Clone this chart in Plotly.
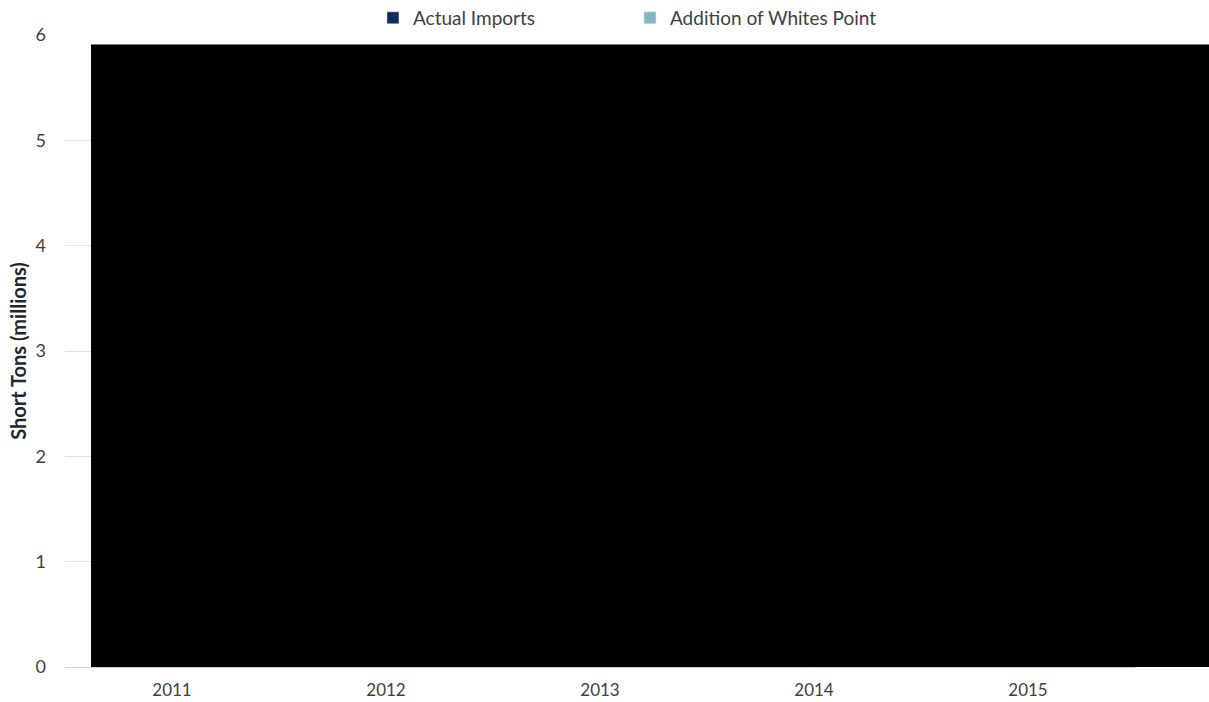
import plotly.graph_objects as go

years = ["2011", "2012", "2013", "2014", "2015"]
# Bar values are hidden under the solid black block in the reference; left empty.
actual_imports = [None, None, None, None, None]
whites_point = [None, None, None, None, None]
y_ticks = [0, 1, 2, 3, 4, 5, 6]

block_top = 5.91
block_x0 = 0.0243
block_x1 = 1.2

font_family = "Lato, 'Open Sans', sans-serif"
fig = go.Figure()
fig.add_trace(go.Bar(x=years, y=actual_imports, name="Actual Imports",
                     marker_color="#0b2d57"))
fig.add_trace(go.Bar(x=years, y=whites_point, name="Addition of Whites Point",
                     marker_color="#7fb8c2"))

fig.add_shape(type="rect", xref="paper", yref="y", x0=block_x0, x1=block_x1,
              y0=0, y1=block_top, fillcolor="black", line=dict(width=0),
              layer="above")

fig.update_layout(
    width=1209, height=702,
    margin=dict(l=65, r=74, t=35, b=35, autoexpand=False),
    barmode="stack",
    plot_bgcolor="white", paper_bgcolor="white",
    font=dict(family=font_family, size=18, color="#404040"),
    showlegend=True,
    legend=dict(orientation="h", x=0.528, xanchor="center", y=1.027, yanchor="middle",
                font=dict(size=19, color="#404040"), entrywidth=212,
                entrywidthmode="pixels", itemwidth=30, traceorder="normal"),
    xaxis=dict(type="category", showgrid=False, ticks="", showline=True,
               linecolor="#d0d0d0", ticklabelstandoff=8,
               tickfont=dict(size=17, color="#404040")),
    yaxis=dict(range=[0, 6], tickvals=y_ticks, showgrid=True, gridcolor="#e3e3e3",
               zeroline=False, ticks="", ticklabelstandoff=18,
               title=dict(text="<b>Short Tons (millions)</b>", font=dict(size=20, color="#262626"),
                          standoff=3),
               tickfont=dict(size=18, color="#404040")),
)

fig.write_html("out.html", config={"displayModeBar": False},
               post_script="document.body.style.margin='0';")
